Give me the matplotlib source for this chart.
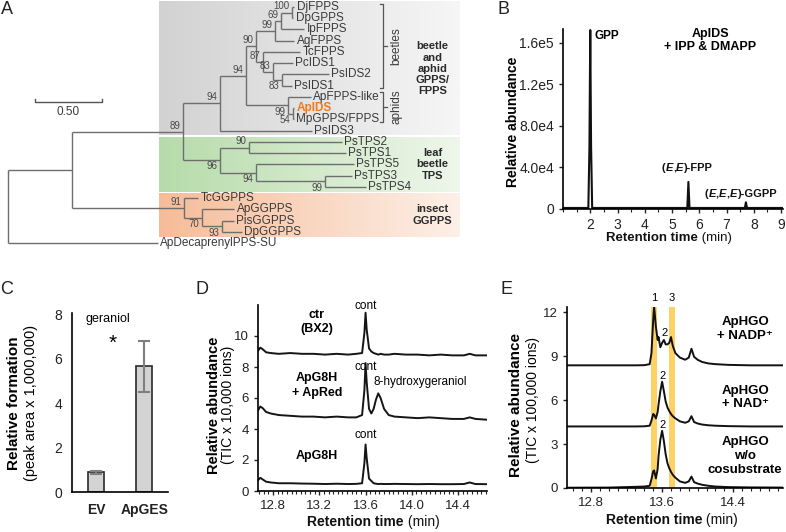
import numpy as np
import matplotlib.pyplot as plt
from matplotlib.colors import LinearSegmentedColormap
from matplotlib.ticker import MultipleLocator

plt.rcParams['font.family'] = ['Liberation Sans', 'DejaVu Sans']
plt.rcParams['axes.linewidth'] = 1.2
plt.rcParams['xtick.color'] = '#222222'
plt.rcParams['ytick.color'] = '#222222'

W, H = 786, 532

# ---------------- A: phylogeny (branch lengths in substitutions/site)
node_name = ['root', 'n1', 'ApDecaprenylPPS-SU', 'n2', 'n18', 'n3', 'n14', 'n4', 'PsIDS3',
             'n5', 'n12', 'n6', 'n9', 'n7', 'AgFPPS', 'n8', 'IpFPPS', 'DjFPPS', 'DpGPPS',
             'TcFPPS', 'n10', 'PcIDS1', 'n11', 'PsIDS2', 'PsIDS1', 'ApFPPS-like', 'n13',
             'ApIDS', 'MpGPPS/FPPS', 'n15', 'n16', 'PsTPS2', 'PsTPS1', 'PsTPS5', 'n17',
             'PsTPS3', 'PsTPS4', 'TcGGPPS', 'n19', 'ApGGPPS', 'n20', 'PisGGPPS', 'DpGGPPS']
node_parent = [None, 'root', 'root', 'n1', 'n1', 'n2', 'n2', 'n3', 'n3',
               'n4', 'n4', 'n5', 'n5', 'n6', 'n6', 'n7', 'n7', 'n8', 'n8',
               'n9', 'n9', 'n10', 'n10', 'n11', 'n11', 'n12', 'n12',
               'n13', 'n13', 'n14', 'n14', 'n15', 'n15', 'n16', 'n16',
               'n17', 'n17', 'n18', 'n18', 'n19', 'n19', 'n20', 'n20']
branch_len = [0.0, 0.478, 1.119, 0.828, 0.836, 0.276, 0.276, 0.194, 0.687,
              0.075, 0.313, 0.142, 0.052, 0.045, 0.142, 0.082, 0.172, 0.015, 0.008,
              0.276, 0.075, 0.149, 0.067, 0.351, 0.075, 0.172, 0.037,
              0.008, 0.008, 0.216, 0.269, 0.694, 0.724, 0.731, 0.515,
              0.201, 0.306, 0.104, 0.134, 0.239, 0.149, 0.090, 0.149]
bootstrap = [None, None, None, 89, 91, 94, 96, 94, None,
             90, 99, 99, 87, 69, None, 100, None, None, None,
             None, 83, None, 83, None, None, None, 54,
             None, None, 90, 94, None, None, None, 99,
             None, None, None, 70, None, 93, None, None]

clade_labels = ['beetle\nand\naphid\nGPPS/\nFPPS', 'leaf\nbeetle\nTPS', 'insect\nGGPPS']
clade_first = ['DjFPPS', 'PsTPS2', 'TcGGPPS']
clade_last = ['PsIDS3', 'PsTPS4', 'DpGGPPS']
sub_labels = ['beetles', 'aphids']
sub_first = ['DjFPPS', 'ApFPPS-like']
sub_last = ['PsIDS1', 'MpGPPS/FPPS']
scale_bar = 0.50

# ---------------- B: ApIDS product chromatogram
b_time = [1.0, 1.93, 1.97, 2.0, 2.03, 2.07, 5.56, 5.6, 5.64, 7.67, 7.71, 7.75, 9.07]
b_abund = [1000, 1000, 60000, 172000, 60000, 1000, 1000, 26000, 1000, 1000, 6500, 1000, 1000]

# ---------------- C: geraniol formation
c_groups = ['EV', 'ApGES']
c_mean = [0.88, 5.65]
c_err = [0.08, 1.15]

# ---------------- D: ApG8H assays (TIC x 10,000)
d_time = [12.65, 12.67, 12.69, 12.71, 12.74, 12.78, 12.85, 12.95, 13.05, 13.15, 13.25, 13.35,
          13.45, 13.52, 13.57, 13.59, 13.60, 13.61, 13.63, 13.65, 13.67, 13.69, 13.71, 13.73,
          13.76, 13.80, 13.85, 13.95, 14.05, 14.15, 14.25, 14.35, 14.45, 14.50, 14.55, 14.65]
d_ctr = [8.9, 9.05, 9.25, 9.15, 8.95, 8.9, 8.85, 8.9, 8.85, 8.85, 8.8, 8.85,
         8.8, 8.85, 8.9, 10.2, 11.5, 10.4, 9.2, 9.0, 8.9, 8.85, 8.8, 8.85,
         8.8, 8.8, 8.85, 8.8, 8.8, 8.75, 8.8, 8.75, 8.75, 8.85, 8.75, 8.75]
d_red = [5.0, 5.2, 5.45, 5.35, 5.1, 5.0, 4.9, 4.85, 4.8, 4.8, 4.75, 4.8,
         4.75, 4.75, 4.9, 6.5, 8.25, 7.0, 5.3, 5.0, 5.3, 5.9, 6.3, 6.0,
         5.3, 4.9, 4.8, 4.75, 4.7, 4.75, 4.7, 4.65, 4.65, 4.75, 4.65, 4.6]
d_g8h = [0.55, 0.7, 0.85, 0.75, 0.6, 0.55, 0.5, 0.5, 0.48, 0.47, 0.45, 0.47,
         0.45, 0.46, 0.5, 1.8, 3.0, 2.1, 0.8, 0.65, 0.5, 0.47, 0.45, 0.46,
         0.45, 0.45, 0.46, 0.45, 0.44, 0.45, 0.44, 0.44, 0.45, 0.55, 0.45, 0.44]

# ---------------- E: ApHGO assays (TIC x 100,000)
e_time = [12.53, 13.00, 13.30, 13.40, 13.46, 13.48, 13.50, 13.51, 13.53, 13.55, 13.56, 13.58,
          13.60, 13.62, 13.64, 13.66, 13.68, 13.70, 13.72, 13.75, 13.80, 13.86, 13.90, 13.93,
          13.96, 14.00, 14.05, 14.12, 14.20, 14.35, 14.60, 14.96]
e_nadp = [8.37, 8.37, 8.37, 8.38, 8.45, 9.2, 11.5, 12.4, 11.0, 10.1, 10.3, 9.6,
          9.9, 10.1, 9.8, 9.8, 9.9, 10.3, 9.7, 9.2, 8.9, 8.75, 8.9, 9.5,
          8.95, 8.75, 8.6, 8.5, 8.45, 8.4, 8.37, 8.37]
e_nad = [4.2, 4.2, 4.2, 4.21, 4.25, 4.6, 5.05, 5.0, 4.75, 5.2, 5.7, 6.6,
         7.25, 6.6, 5.9, 5.5, 5.25, 5.05, 4.9, 4.75, 4.55, 4.45, 4.55, 4.9,
         4.5, 4.4, 4.33, 4.28, 4.25, 4.22, 4.2, 4.2]
e_none = [0.02, 0.03, 0.08, 0.1, 0.15, 0.6, 1.15, 1.2, 0.65, 1.3, 2.2, 3.3,
          3.9, 3.2, 2.3, 1.7, 1.35, 1.1, 0.9, 0.7, 0.45, 0.35, 0.45, 0.78,
          0.4, 0.3, 0.22, 0.15, 0.1, 0.06, 0.04, 0.03]
e_band_lo = [13.48, 13.68]
e_band_hi = [13.54, 13.74]
e_band_names = ['1', '3']


def box(l, t, r, b):
    return [l / W, 1 - b / H, (r - l) / W, (b - t) / H]


def fxy(x, y):
    return (x / W, 1 - y / H)


def rich(ax, xy, parts, coords='data', size=9):
    # chain text pieces with different weights / styles on one line
    prev = None
    for s, st in parts:
        kw = dict(fontsize=size, color='#111111', annotation_clip=False,
                  fontweight='bold' if 'b' in st else 'normal',
                  fontstyle='italic' if 'i' in st else 'normal')
        if prev is None:
            prev = ax.annotate(s, xy=xy, xycoords=coords, ha='left', va='center', **kw)
        else:
            prev = ax.annotate(s, xy=(1, 0), xycoords=prev, ha='left', va='bottom', **kw)


fig = plt.figure(figsize=(W / 100, H / 100), dpi=100)

# ================= A =================
axA = fig.add_axes(box(0, 0, 470, 255))
children = {n: [] for n in node_name}
xpos = {}
for n, p, L in zip(node_name, node_parent, branch_len):
    xpos[n] = (xpos[p] if p else 0.0) + L
    if p:
        children[p].append(n)
ypos = {}
leaf_count = [0]


def place(n):
    if not children[n]:
        ypos[n] = leaf_count[0]
        leaf_count[0] += 1
    else:
        for c in children[n]:
            place(c)
        ypos[n] = (ypos[children[n][0]] + ypos[children[n][-1]]) / 2


place('root')

# shaded clade boxes with horizontal fade
box_cols = [('#d2d2d2', '#f6f6f6'), ('#b6dba9', '#eef7eb'), ('#f6bc98', '#fdf0e8')]
grad = np.linspace(0, 1, 256).reshape(1, -1)
bx0 = xpos['ApDecaprenylPPS-SU'] + 0.008
bx1 = 3.37
for (c0, c1), f, l in zip(box_cols, clade_first, clade_last):
    lo = ypos[f] - 0.5 + 0.07
    hi = ypos[l] + 0.5 - 0.07
    axA.imshow(grad, extent=(bx0, bx1, hi, lo), aspect='auto', zorder=0,
               cmap=LinearSegmentedColormap.from_list('g', [c0, c1]), interpolation='bilinear')

tree_col = '#6e6e6e'
for n, p in zip(node_name, node_parent):
    if p:
        axA.plot([xpos[p], xpos[n]], [ypos[n], ypos[n]], color=tree_col, lw=1.0,
                 solid_capstyle='butt', zorder=2)
    if children[n]:
        axA.plot([xpos[n], xpos[n]], [ypos[children[n][0]], ypos[children[n][-1]]],
                 color=tree_col, lw=1.0, solid_capstyle='butt', zorder=2)
    else:
        hl = n == 'ApIDS'
        axA.text(xpos[n] + 0.018, ypos[n], n, va='center', ha='left', fontsize=8.5,
                 color='#f07a1e' if hl else '#3a3a3a', fontweight='bold' if hl else 'normal',
                 zorder=3)

below = {'n11', 'n12', 'n13', 'n14', 'n16', 'n17', 'n19', 'n20'}
for n, bs in zip(node_name, bootstrap):
    if bs is None:
        continue
    if n in below:
        axA.text(xpos[n] - 0.02, ypos[n] + 0.12, str(bs), ha='right', va='top',
                 fontsize=7, color='#4a4a4a', zorder=3)
    else:
        axA.text(xpos[n] - 0.02, ypos[n] - 0.1, str(bs), ha='right', va='bottom',
                 fontsize=7, color='#4a4a4a', zorder=3)

# sub-clade brackets
brx = 2.80
for lab, f, l, dt, db in zip(sub_labels, sub_first, sub_last, [0.27, 0.44], [0.2, 0.23]):
    y0, y1 = ypos[f] - dt, ypos[l] + db
    axA.plot([brx - 0.025, brx, brx, brx - 0.025], [y0, y0, y1, y1], color='#555555', lw=0.9)
    axA.plot([brx, brx + 0.025], [(y0 + y1) / 2] * 2, color='#555555', lw=0.9)
    axA.text(brx + 0.1, (y0 + y1) / 2, lab, rotation=90, ha='center', va='center',
             fontsize=8.5, color='#3a3a3a')

for lab, f, l in zip(clade_labels, clade_first, clade_last):
    axA.text(3.17, (ypos[f] + ypos[l]) / 2, lab, ha='center', va='center', fontsize=8,
             fontweight='bold', color='#2a2a2a', linespacing=1.15)

# scale bar
sy = 8.45
axA.plot([0.2, 0.2, 0.2 + scale_bar, 0.2 + scale_bar], [sy - 0.25, sy, sy, sy - 0.25],
         color='#555555', lw=1.0)
axA.text(0.2 + scale_bar / 2, sy + 0.85, f'{scale_bar:.2f}', ha='center', va='center',
         fontsize=8.5, color='#3a3a3a')

axA.set_xlim(-8 / 134, 462 / 134)
axA.set_ylim(248 / 11.24, -7 / 11.24)
axA.axis('off')

# ================= B =================
axB = fig.add_axes(box(563, 29, 783, 209))
axB.plot(b_time, b_abund, color='#111111', lw=1.5)
axB.set_xlim(1.0, 9.07)
axB.set_ylim(0, 1.73e5)
axB.set_xticks(range(2, 10))
axB.xaxis.set_minor_locator(MultipleLocator(0.5))
axB.set_yticks([0, 4e4, 8e4, 1.2e5, 1.6e5])
axB.set_yticklabels(['0', '4.0e4', '8.0e4', '1.2e5', '1.6e5'])
for s in ['top', 'right']:
    axB.spines[s].set_visible(False)
axB.tick_params(axis='both', labelsize=10, direction='out', length=3, width=1)
axB.tick_params(axis='x', which='minor', length=2, width=0.8)
axB.text(2.62, 1.66e5, 'GPP', ha='center', va='center', fontsize=8.5, fontweight='bold')
axB.text(6.4, 1.62e5, 'ApIDS\n+ IPP & DMAPP', ha='center', va='center', fontsize=9,
         fontweight='bold', linespacing=1.2)
rich(axB, (4.63, 3.95e4), [('(', 'b'), ('E', 'bi'), (',', 'b'), ('E', 'bi'), (')-FPP', 'b')], size=8)
rich(axB, (6.2, 1.45e4), [('(', 'b'), ('E', 'bi'), (',', 'b'), ('E', 'bi'), (',', 'b'),
                          ('E', 'bi'), (')-GGPP', 'b')], size=8)
fig.text(*fxy(513, 122), 'Relative abundance', rotation=90, ha='center', va='center',
         fontsize=10, fontweight='bold')
rich(axB, fxy(606, 238), [('Retention time', 'b'), (' (min)', 'n')], coords='figure fraction',
     size=9.5)

# ================= C =================
axC = fig.add_axes(box(72, 313, 168, 492))
xc = np.arange(len(c_groups))
axC.bar(xc, c_mean, width=0.33, color='#d3d3d3', edgecolor='#2a2a2a', lw=1.2, zorder=2)
axC.errorbar(xc, c_mean, yerr=c_err, fmt='none', ecolor='#7f7f7f', elinewidth=1.5,
             capsize=4, capthick=1.5, zorder=3)
axC.set_xlim(-0.5, 1.49)
axC.set_ylim(0, 8.05)
axC.set_xticks(xc)
axC.set_xticklabels(c_groups, fontweight='bold', fontsize=10)
axC.set_yticks([0, 2, 4, 6, 8])
for s in ['top', 'right']:
    axC.spines[s].set_visible(False)
axC.tick_params(axis='x', length=0, pad=8)
axC.tick_params(axis='y', length=0, pad=7, labelsize=10)
axC.text(0.24, 7.8, 'geraniol', ha='center', va='center', fontsize=9)
axC.text(0.35, 6.7, '*', ha='center', va='center', fontsize=15)
fig.text(*fxy(14, 403), 'Relative formation', rotation=90, ha='center', va='center',
         fontsize=11, fontweight='bold')
fig.text(*fxy(31, 403), '(peak area x 1,000,000)', rotation=90, ha='center', va='center',
         fontsize=10.5)

# ================= D =================
axD = fig.add_axes(box(258, 305, 487, 491))
for ys in (d_ctr, d_red, d_g8h):
    axD.plot(d_time, ys, color='#151515', lw=1.4)
axD.set_xlim(12.67, 14.65)
axD.set_ylim(0, 12)
axD.set_xticks([12.8, 13.2, 13.6, 14.0, 14.4])
axD.xaxis.set_minor_locator(MultipleLocator(0.04))
axD.set_yticks([0, 2, 4, 6, 8, 10])
for s in ['top', 'right']:
    axD.spines[s].set_visible(False)
axD.tick_params(axis='both', labelsize=9.5, direction='out', length=3, width=1)
axD.tick_params(axis='x', which='minor', length=2, width=0.8)
axD.text(13.18, 10.9, 'ctr\n(BX2)', ha='center', va='center', fontsize=9,
         fontweight='bold', linespacing=1.3)
axD.text(13.18, 6.8, 'ApG8H\n+ ApRed', ha='center', va='center', fontsize=9,
         fontweight='bold', linespacing=1.3)
axD.text(13.18, 2.24, 'ApG8H', ha='center', va='center', fontsize=9, fontweight='bold')
for yy in (11.95, 8.0, 3.6):
    axD.text(13.6, yy, 'cont', ha='center', va='center', fontsize=8.5)
axD.text(14.07, 7.0, '8-hydroxygeraniol', ha='center', va='center', fontsize=8.5)
fig.text(*fxy(214, 405), 'Relative abundance', rotation=90, ha='center', va='center',
         fontsize=10.5, fontweight='bold')
fig.text(*fxy(228, 405), '(TIC x 10,000 ions)', rotation=90, ha='center', va='center',
         fontsize=10)
rich(axD, fxy(307, 522), [('Retention time', 'b'), (' (min)', 'n')], coords='figure fraction',
     size=10)

# ================= E =================
axE = fig.add_axes(box(567, 307, 783, 488))
for lo, hi, nm in zip(e_band_lo, e_band_hi, e_band_names):
    axE.axvspan(lo, hi, color='#fcd264', lw=0, zorder=0)
    axE.text((lo + hi) / 2, 12.95, nm, ha='center', va='center', fontsize=8, clip_on=False)
for ys in (e_nadp, e_nad, e_none):
    axE.plot(e_time, ys, color='#111111', lw=1.4, zorder=2)
axE.set_xlim(12.53, 14.96)
axE.set_ylim(0, 12.35)
axE.set_xticks([12.8, 13.6, 14.4])
axE.xaxis.set_minor_locator(MultipleLocator(0.1))
axE.set_yticks([0, 3, 6, 9, 12])
for s in ['top', 'right']:
    axE.spines[s].set_visible(False)
axE.tick_params(axis='both', labelsize=9.5, direction='out', length=3, width=1)
axE.tick_params(axis='x', which='minor', length=2, width=0.8)
axE.text(13.625, 10.6, '2', ha='center', va='center', fontsize=8)
axE.text(13.60, 7.65, '2', ha='center', va='center', fontsize=8)
axE.text(13.60, 4.3, '2', ha='center', va='center', fontsize=8)
axE.text(14.535, 10.84, 'ApHGO\n+ NADP\u207a', ha='center', va='center', fontsize=9.5,
         fontweight='bold', linespacing=1.2)
axE.text(14.535, 6.17, 'ApHGO\n+ NAD\u207a', ha='center', va='center', fontsize=9.5,
         fontweight='bold', linespacing=1.2)
axE.text(14.535, 2.18, 'ApHGO\nw/o\ncosubstrate', ha='center', va='center', fontsize=9.5,
         fontweight='bold', linespacing=1.2)
fig.text(*fxy(516, 405), 'Relative abundance', rotation=90, ha='center', va='center',
         fontsize=11, fontweight='bold')
fig.text(*fxy(533, 400), '(TIC x 100,000 ions)', rotation=90, ha='center', va='center',
         fontsize=10)
rich(axE, fxy(606, 520), [('Retention time', 'b'), (' (min)', 'n')], coords='figure fraction',
     size=10)

# panel letters
for lab, (px, py) in zip('ABCDE', [(7, 9), (504, 9), (7, 290), (202, 290), (507, 289)]):
    fig.text(*fxy(px, py), lab, ha='center', va='center', fontsize=13, color='#222222')

fig.savefig('out.png', dpi=100)
